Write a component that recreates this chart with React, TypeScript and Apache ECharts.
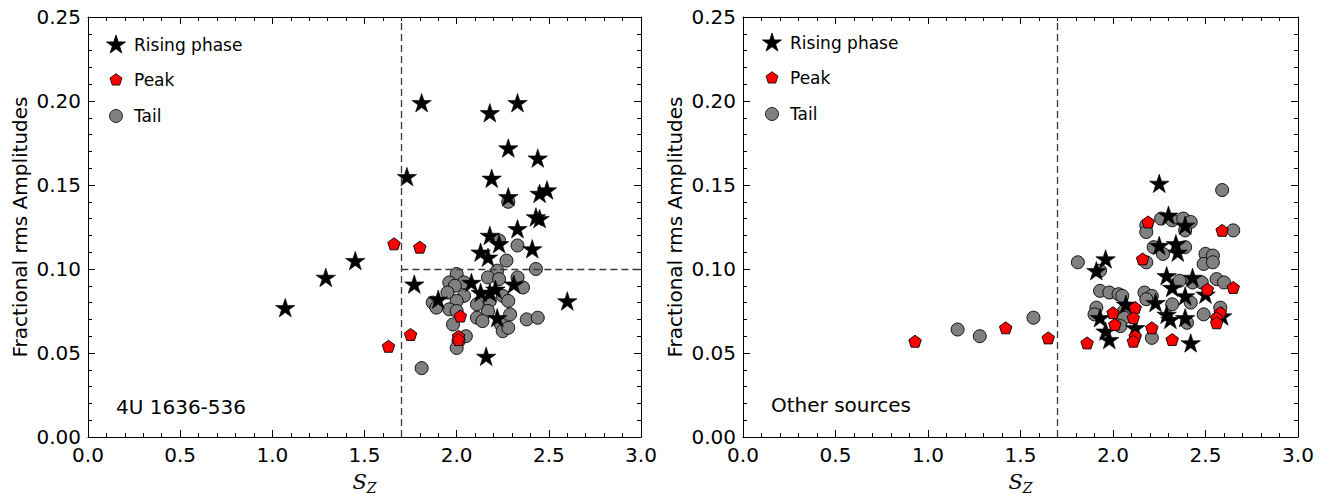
import React, { useEffect, useRef } from "react";
import * as echarts from "echarts";

// [S_Z, fractional rms amplitude] pairs — 4U 1636-536
const risingLeft: number[][] = [
  [1.07, 0.077], [1.29, 0.095], [1.45, 0.105], [1.73, 0.155], [1.81, 0.199],
  [2.18, 0.193], [2.33, 0.199], [2.28, 0.172], [2.19, 0.154], [2.44, 0.166],
  [2.49, 0.147], [2.45, 0.145], [2.28, 0.143], [2.43, 0.131], [2.45, 0.130],
  [2.33, 0.124], [2.18, 0.120], [2.13, 0.110], [2.17, 0.107], [2.23, 0.115],
  [2.41, 0.112], [1.77, 0.091], [1.90, 0.082], [2.08, 0.092], [2.13, 0.086],
  [2.18, 0.086], [2.21, 0.088], [2.31, 0.091], [2.22, 0.071], [2.16, 0.048],
  [2.60, 0.081],
];
const peakLeft: number[][] = [
  [1.66, 0.115], [1.80, 0.113], [1.75, 0.061], [1.63, 0.054], [2.02, 0.072],
  [2.01, 0.060], [2.01, 0.058],
];
const tailLeft: number[][] = [
  [2.23, 0.117], [2.33, 0.114], [2.27, 0.105], [2.43, 0.100], [2.22, 0.099],
  [2.00, 0.097], [2.17, 0.095], [2.33, 0.095], [2.23, 0.094], [1.96, 0.092],
  [2.04, 0.092], [1.99, 0.090], [2.36, 0.089], [1.95, 0.086], [2.04, 0.084],
  [2.25, 0.084], [2.28, 0.081], [1.87, 0.080], [2.00, 0.081], [2.11, 0.079],
  [2.18, 0.081], [1.89, 0.077], [1.96, 0.076], [2.00, 0.075], [2.11, 0.071],
  [2.17, 0.075], [2.29, 0.073], [2.14, 0.069], [2.24, 0.067], [2.38, 0.070],
  [2.44, 0.071], [1.98, 0.067], [2.25, 0.063], [2.28, 0.065], [2.05, 0.060],
  [2.01, 0.057], [2.00, 0.053], [1.81, 0.041], [2.28, 0.140],
];

// Other sources
const risingRight: number[][] = [
  [2.25, 0.151], [2.30, 0.132], [2.39, 0.126], [2.25, 0.114], [2.34, 0.115],
  [2.35, 0.110], [1.96, 0.106], [1.91, 0.099], [2.29, 0.096], [2.43, 0.095],
  [2.32, 0.089], [2.50, 0.085], [2.39, 0.084], [2.23, 0.080], [2.07, 0.079],
  [1.93, 0.071], [2.29, 0.073], [2.31, 0.070], [2.39, 0.071], [2.59, 0.072],
  [2.12, 0.065], [1.96, 0.063], [1.98, 0.058], [2.42, 0.056],
];
const peakRight: number[][] = [
  [0.93, 0.057], [1.42, 0.065], [1.65, 0.059], [2.19, 0.128], [2.59, 0.123],
  [2.16, 0.106], [2.51, 0.088], [2.65, 0.089], [2.12, 0.077], [2.00, 0.074],
  [2.11, 0.071], [2.58, 0.074], [2.56, 0.071], [2.56, 0.068], [2.01, 0.067],
  [2.21, 0.065], [2.12, 0.060], [2.11, 0.057], [1.86, 0.056], [2.32, 0.058],
];
const tailRight: number[][] = [
  [1.16, 0.064], [1.28, 0.060], [1.57, 0.071], [2.59, 0.147], [2.26, 0.130],
  [2.32, 0.129], [2.38, 0.130], [2.42, 0.128], [2.39, 0.123], [2.18, 0.126],
  [2.18, 0.122], [2.65, 0.123], [2.22, 0.113], [2.27, 0.109], [2.39, 0.113],
  [2.50, 0.109], [2.54, 0.108], [2.49, 0.103], [2.54, 0.104], [2.18, 0.104],
  [1.81, 0.104], [1.93, 0.099], [2.36, 0.093], [2.43, 0.092], [2.48, 0.092],
  [2.56, 0.094], [2.60, 0.092], [2.42, 0.080], [1.93, 0.087], [1.98, 0.086],
  [2.03, 0.085], [2.05, 0.084], [2.17, 0.086], [2.21, 0.084], [2.18, 0.082],
  [2.32, 0.079], [1.91, 0.077], [2.06, 0.075], [1.90, 0.073], [2.06, 0.071],
  [2.40, 0.068], [2.49, 0.073], [2.58, 0.077], [2.04, 0.066], [2.21, 0.059],
];

const seriesNames = ["Rising phase", "Peak", "Tail"];
const panelLabels = ["4U 1636-536", "Other sources"];
const yTitle = "Fractional rms Amplitudes";
const splitSZ = 1.7;
const splitRms = 0.1;

const FONT = "DejaVu Sans";
const STAR =
  "path://M0,-10L2.245,-3.09L9.511,-3.09L3.633,1.18L5.878,8.09L0,3.82L-5.878,8.09L-3.633,1.18L-9.511,-3.09L-2.245,-3.09Z";
const PENTA = "path://M0,-10L9.511,-3.09L5.878,8.09L-5.878,8.09L-9.511,-3.09Z";

const GRIDS = [
  { left: 88, top: 17, width: 553, height: 428 },
  { left: 743, top: 17, width: 555, height: 428 },
];

function polyPoints(cx: number, cy: number, R: number, star: boolean) {
  const pts: number[][] = [];
  const n = star ? 10 : 5;
  for (let k = 0; k < n; k++) {
    const ang = ((-90 + (360 / n) * k) * Math.PI) / 180;
    const r = star && k % 2 === 1 ? R * 0.382 : R;
    pts.push([cx + r * Math.cos(ang), cy + r * Math.sin(ang)]);
  }
  return pts;
}

function legendGraphics(x: number, y: number) {
  const gap = 35;
  const items: any[] = [
    {
      type: "polygon",
      shape: { points: polyPoints(x, y, 10, true) },
      style: { fill: "#000", stroke: "#000", lineWidth: 0.8 },
    },
    {
      type: "polygon",
      shape: { points: polyPoints(x, y + gap, 6.3, false) },
      style: { fill: "#ff0000", stroke: "#000", lineWidth: 0.8 },
    },
    {
      type: "circle",
      shape: { cx: x, cy: y + gap * 2 + 1, r: 6.5 },
      style: { fill: "#808080", stroke: "#000", lineWidth: 0.8 },
    },
  ];
  seriesNames.forEach((name, i) => {
    items.push({
      type: "text",
      x: x + 18,
      y: y + gap * i + (i === 2 ? 1 : 0),
      style: {
        text: name,
        font: `17px "${FONT}"`,
        fill: "#000",
        verticalAlign: "middle",
        textAlign: "left",
      },
    });
  });
  return items;
}

function xAxes(gridIndex: number) {
  const common = {
    gridIndex,
    type: "value",
    min: 0,
    max: 3,
    interval: 0.5,
    axisLine: { onZero: false, lineStyle: { color: "#000", width: 1 } },
    axisTick: { inside: true, length: 7, lineStyle: { color: "#000" } },
    minorTick: { show: true, splitNumber: 5, length: 4, lineStyle: { color: "#000" } },
    splitLine: { show: false },
    minorSplitLine: { show: false },
  };
  return [
    {
      ...common,
      position: "bottom",
      axisLabel: {
        fontFamily: FONT,
        fontSize: 20,
        color: "#000",
        margin: 8,
        formatter: (v: number) => v.toFixed(1),
      },
      name: "{s|S}{z|Z}",
      nameLocation: "middle",
      nameGap: 32,
      nameTextStyle: {
        rich: {
          s: { fontFamily: "DejaVu Serif", fontStyle: "italic", fontSize: 21, color: "#000" },
          z: {
            fontFamily: "DejaVu Serif",
            fontStyle: "italic",
            fontSize: 14,
            color: "#000",
            padding: [12, 0, 0, 0],
          },
        },
      },
    },
    { ...common, position: "top", axisLabel: { show: false } },
  ];
}

function yAxes(gridIndex: number) {
  const common = {
    gridIndex,
    type: "value",
    min: 0,
    max: 0.25,
    interval: 0.05,
    axisLine: { show: true, onZero: false, lineStyle: { color: "#000", width: 1 } },
    axisTick: { show: true, inside: true, length: 7, lineStyle: { color: "#000" } },
    minorTick: { show: true, splitNumber: 5, length: 4, lineStyle: { color: "#000" } },
    splitLine: { show: false },
    minorSplitLine: { show: false },
  };
  return [
    {
      ...common,
      position: "left",
      axisLabel: {
        fontFamily: FONT,
        fontSize: 20,
        color: "#000",
        margin: 7,
        formatter: (v: number) => v.toFixed(2),
      },
      name: yTitle,
      nameLocation: "middle",
      nameRotate: 90,
      nameGap: 58,
      nameTextStyle: { fontFamily: FONT, fontSize: 20, color: "#000" },
    },
    { ...common, position: "right", axisLabel: { show: false } },
  ];
}

function panelSeries(
  axisIndex: number,
  rising: number[][],
  peak: number[][],
  tail: number[][],
  guides: any[]
) {
  return [
    {
      name: "Tail",
      type: "scatter",
      xAxisIndex: axisIndex,
      yAxisIndex: axisIndex,
      data: tail,
      symbol: "circle",
      symbolSize: 13,
      z: 2,
      itemStyle: { color: "#808080", borderColor: "#000", borderWidth: 0.9, opacity: 1 },
      markLine: {
        silent: true,
        symbol: ["none", "none"],
        label: { show: false },
        lineStyle: { type: [7, 4], color: "#3a3a3a", width: 1.3 },
        data: guides,
      },
    },
    {
      name: "Rising phase",
      type: "scatter",
      xAxisIndex: axisIndex,
      yAxisIndex: axisIndex,
      data: rising,
      symbol: STAR,
      symbolSize: [19.5, 18.5],
      z: 3,
      itemStyle: { color: "#000", borderColor: "#000", borderWidth: 0.6, opacity: 1 },
    },
    {
      name: "Peak",
      type: "scatter",
      xAxisIndex: axisIndex,
      yAxisIndex: axisIndex,
      data: peak,
      symbol: PENTA,
      symbolSize: [12.5, 12],
      z: 4,
      itemStyle: { color: "#ff0000", borderColor: "#000", borderWidth: 0.9, opacity: 1 },
    },
  ];
}

export default function App() {
  const ref = useRef<HTMLDivElement>(null);

  useEffect(() => {
    if (!ref.current) return;
    const chart = echarts.init(ref.current, undefined, { renderer: "svg" });

    const option: any = {
      animation: false,
      backgroundColor: "#fff",
      grid: GRIDS,
      xAxis: [...xAxes(0), ...xAxes(1)],
      yAxis: [...yAxes(0), ...yAxes(1)],
      series: [
        ...panelSeries(0, risingLeft, peakLeft, tailLeft, [
          { xAxis: splitSZ },
          [{ coord: [splitSZ, splitRms] }, { coord: [3, splitRms] }],
        ]),
        ...panelSeries(2, risingRight, peakRight, tailRight, [{ xAxis: splitSZ }]),
      ],
      graphic: [
        ...legendGraphics(116, 45),
        ...legendGraphics(772, 43),
        {
          type: "text",
          x: 116,
          y: 407,
          style: {
            text: panelLabels[0],
            font: `20px "${FONT}"`,
            fill: "#000",
            verticalAlign: "middle",
          },
        },
        {
          type: "text",
          x: 771,
          y: 405,
          style: {
            text: panelLabels[1],
            font: `20px "${FONT}"`,
            fill: "#000",
            verticalAlign: "middle",
          },
        },
      ],
    };

    chart.setOption(option);
    return () => chart.dispose();
  }, []);

  return (
    <div
      ref={ref}
      style={{ position: "fixed", left: 0, top: 0, width: 1334, height: 500, background: "#fff" }}
    />
  );
}
